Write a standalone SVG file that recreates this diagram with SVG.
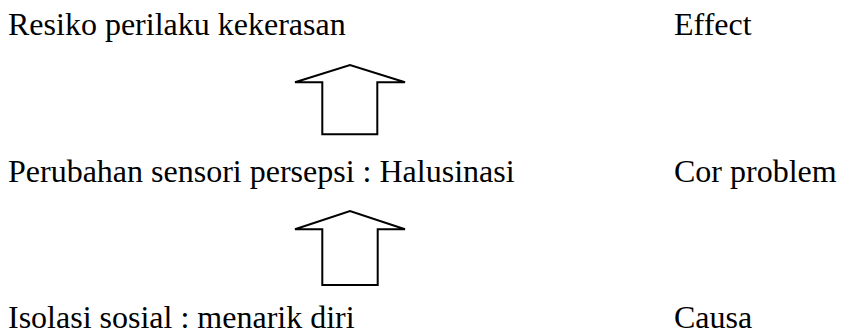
<svg xmlns="http://www.w3.org/2000/svg" width="843" height="333" viewBox="0 0 843 333">
<style>
text{font-family:"Liberation Serif","Times New Roman",serif;font-size:32px;fill:#000}
.arrow{fill:#fff;stroke:#000;stroke-width:2;stroke-linejoin:miter}
</style>
<rect width="843" height="333" fill="#fff"/>
<g id="n-effect-left"><text x="8" y="35">Resiko perilaku kekerasan</text></g>
<g id="n-effect"><text x="674" y="35">Effect</text></g>
<g id="n-core-left"><text x="8" y="182">Perubahan sensori persepsi : Halusinasi</text></g>
<g id="n-core"><text x="674" y="182">Cor problem</text></g>
<g id="n-cause-left"><text x="8" y="328">Isolasi sosial : menarik diri</text></g>
<g id="n-cause"><text x="674" y="328">Causa</text></g>
<g id="connectors">
<path class="arrow" d="M322.3,134.3 V82.3 H295 L350,65 L405,82.3 H377.3 V134.3 Z"/>
<path class="arrow" d="M322.3,285 V229.3 H295 L350,211 L405,229.3 H377.7 V285 Z"/>
</g>
</svg>
